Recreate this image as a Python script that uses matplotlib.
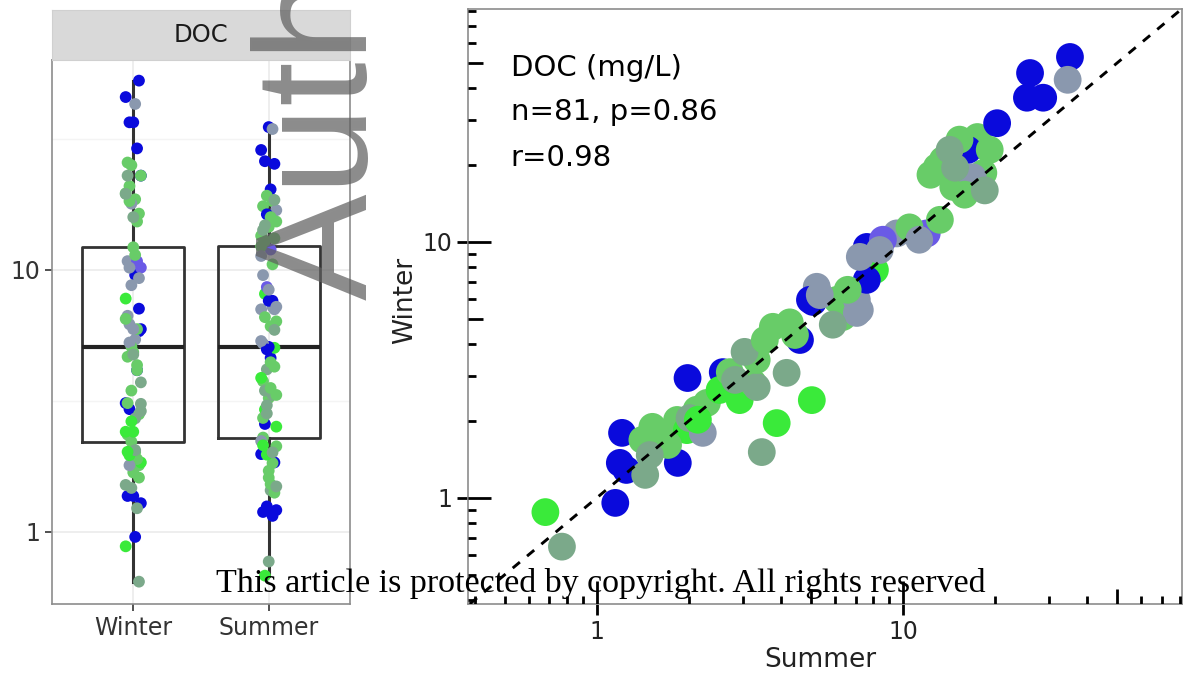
import numpy as np
import matplotlib
matplotlib.use("Agg")
import matplotlib.pyplot as plt

# DOC (mg/L) per site: x = Summer, y = Winter
summer = [0.68, 0.77, 1.15, 1.21, 1.19, 1.25, 1.44, 1.84, 1.98, 2.58,
          1.61, 1.83, 2.12, 2.29, 1.97, 1.52, 1.41, 2.22, 2.93, 3.24,
          3.33, 3.33, 3.76, 4.17, 4.61, 5.04, 3.87, 3.46, 5.08, 7.23,
          6.36, 5.23, 4.97, 6.09, 7.07, 7.07, 8.10, 7.62, 7.62, 7.23,
          9.55, 8.6, 11.96, 13.2, 13.5, 12.9, 14.6, 18.3, 16.9, 17.5,
          16.3, 20.3, 25.4, 28.7, 26.0, 35.1, 34.5, 15.3, 14.2, 19.2,
          15.9, 18.5, 12.3, 14.8, 1.71, 2.01, 2.52, 2.72, 3.04, 3.54,
          4.27, 5.35, 6.6, 8.4, 10.5, 1.49, 2.14, 2.83, 4.44, 5.9, 11.3]
winter = [0.88, 0.645, 0.956, 1.795, 1.37, 1.286, 1.23, 1.37, 2.94, 3.10,
          1.795, 2.016, 2.21, 2.35, 1.84, 1.895, 1.685, 1.795, 2.41, 2.81,
          2.71, 3.46, 4.66, 3.08, 4.14, 2.41, 1.96, 1.51, 5.83, 5.42,
          5.09, 6.68, 5.94, 5.94, 5.94, 5.28, 7.77, 7.11, 9.56, 8.74,
          10.8, 10.2, 10.8, 12.2, 20.9, 19.6, 16.4, 18.6, 17.9, 25.7,
          22.9, 29.1, 36.6, 36.6, 45.7, 52.8, 43.0, 25.1, 22.9, 22.9,
          15.3, 15.9, 18.3, 19.5, 1.61, 2.05, 2.64, 3.10, 3.72, 4.14,
          4.85, 6.2, 6.5, 9.3, 11.4, 1.47, 2.02, 2.89, 4.33, 4.75, 10.2]
group = ["lime", "sage", "blue", "blue", "blue", "blue", "sage", "blue", "blue", "blue",
         "green", "green", "green", "green", "lime", "green", "green", "gray", "lime", "green",
         "sage", "green", "green", "sage", "blue", "lime", "lime", "sage", "blue", "gray",
         "green", "gray", "blue", "green", "gray", "gray", "lime", "blue", "blue", "gray",
         "gray", "slate", "slate", "green", "green", "green", "green", "green", "gray", "green",
         "blue", "blue", "blue", "blue", "blue", "blue", "gray", "green", "sage", "green",
         "green", "sage", "green", "sage", "green", "sage", "lime", "green", "sage", "green",
         "green", "gray", "green", "gray", "green", "sage", "lime", "sage", "green", "sage", "gray"]

palette = {"blue": "#0A0ADC", "slate": "#6A5AE6", "gray": "#8A98AE",
           "sage": "#7BA98A", "green": "#68CC68", "lime": "#3AEA3A"}
colours = [palette[g] for g in group]

fig = plt.figure(figsize=(11.86, 6.86), dpi=100)
W, H = 1186, 686

# ---- left: box plot with jittered points ----
axb = fig.add_axes([52 / W, 82 / H, 298 / W, 544 / H])
axb.boxplot([winter, summer], positions=[1, 2], widths=0.75, whis=(0, 100),
            showfliers=False, showcaps=False,
            boxprops=dict(color="#333333", lw=2),
            whiskerprops=dict(color="#333333", lw=2.2),
            medianprops=dict(color="#222222", lw=3), zorder=2)
jit = np.array([((i * 7) % 9 - 4) * 0.014 for i in range(len(winter))])
axb.scatter(1 + jit, winter, s=72, c=colours, linewidths=0, zorder=3)
axb.scatter(2 + jit[::-1], summer, s=72, c=colours, linewidths=0, zorder=3)
axb.set_yscale("log")
axb.set_ylim(0.53, 63.3)
axb.set_xlim(0.4, 2.6)
axb.set_yticks([1, 10])
axb.set_yticklabels(["1", "10"])
axb.set_yticks([10 ** 0.5, 10 ** 1.5], minor=True)
axb.set_xticks([1, 2])
axb.set_xticklabels(["Winter", "Summer"])
axb.grid(True, which="major", color="#EBEBEB", lw=1.2, zorder=0)
axb.grid(True, which="minor", axis="y", color="#F4F4F4", lw=1, zorder=0)
axb.set_axisbelow(True)
axb.tick_params(which="major", labelsize=17, length=5, width=1.2, color="#333333",
                labelcolor="#333333")
axb.tick_params(which="minor", length=0)
for sp in axb.spines.values():
    sp.set_color("#8C8C8C")
    sp.set_linewidth(1.2)

strip = fig.add_axes([52 / W, 626 / H, 298 / W, 50 / H])
strip.set_facecolor("#D9D9D9")
strip.set_xticks([])
strip.set_yticks([])
for sp in strip.spines.values():
    sp.set_color("#D0D0D0")
strip.text(0.5, 0.5, "DOC", ha="center", va="center", fontsize=17.5, color="#1A1A1A")

# ---- right: winter vs summer scatter ----
axs = fig.add_axes([468 / W, 82 / H, 714 / W, 595 / H])
axs.scatter(summer, winter, s=400, c=colours, linewidths=0, zorder=3)
axs.set_xscale("log")
axs.set_yscale("log")
axs.set_xlim(0.38, 81.5)
axs.set_ylim(0.385, 81.3)
axs.axline((1, 1), (10, 10), color="black", ls=(0, (3.2, 3.2)), lw=2.1, zorder=4)
axs.set_xticks([1, 10])
axs.set_xticklabels(["1", "10"])
axs.set_yticks([1, 10])
axs.set_yticklabels(["1", "10"])
axs.xaxis.set_minor_locator(plt.NullLocator())
axs.yaxis.set_minor_locator(plt.NullLocator())
axs.tick_params(which="major", labelsize=17, length=8, width=2, color="black",
                labelcolor="#222222")

# log ticks drawn inside the panel (long at 10^n, medium at 5x10^n)
tv = [m * 10.0 ** e for e in (-1, 0, 1) for m in range(1, 10)]
xlen = [23 / 595 if v in (0.1, 1, 10) else (15 / 595 if str(v)[0] == "5" else 8 / 595) for v in tv]
ylen = [23 / 714 if v in (0.1, 1, 10) else (15 / 714 if str(v)[0] == "5" else 8 / 714) for v in tv]
axs.vlines(tv, 0, xlen, transform=axs.get_xaxis_transform(), color="black", lw=2, zorder=5)
axs.hlines(tv, 0, ylen, transform=axs.get_yaxis_transform(), color="black", lw=2, zorder=5)

for sp in axs.spines.values():
    sp.set_color("#8C8C8C")
    sp.set_linewidth(1.2)

axs.set_xlabel("Summer", fontsize=19, color="#222222")
axs.set_ylabel("Winter", fontsize=19, color="#222222")
axs.xaxis.set_label_coords(0.493, -0.072)
axs.yaxis.set_label_coords(-0.070, 0.51)

axs.text(0.06, 0.901, "DOC (mg/L)", transform=axs.transAxes, fontsize=21, va="center")
axs.text(0.06, 0.827, "n=81, p=0.86", transform=axs.transAxes, fontsize=21, va="center")
axs.text(0.06, 0.750, "r=0.98", transform=axs.transAxes, fontsize=21, va="center")

# journal watermarks
fig.text(367 / W, 1 - 300 / H, "Auth", rotation=90, rotation_mode="anchor",
         ha="left", va="baseline", fontsize=115, color="#5F5F5F", alpha=0.72,
         family="Liberation Sans", zorder=10)
fig.text(601 / W, 1 - 592 / H, "This article is protected by copyright. All rights reserved",
         ha="center", va="baseline", fontsize=24.5, family="Liberation Serif",
         color="black", zorder=11)

fig.savefig("out.png", dpi=100)
